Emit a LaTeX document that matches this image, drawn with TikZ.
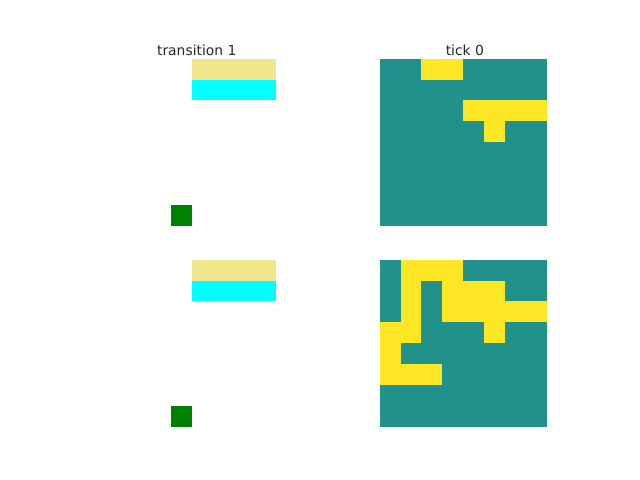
\documentclass[tikz,border=0pt]{standalone}
\usepackage{fontspec}
\setmainfont{DejaVu Sans}
\usetikzlibrary{positioning}
\definecolor{vteal}{HTML}{21918C}
\definecolor{vyellow}{HTML}{FDE725}
\definecolor{mkhaki}{HTML}{F0E68C}
\definecolor{mcyan}{HTML}{00FFFF}
\definecolor{mgreen}{HTML}{008000}

\begin{document}
\begin{tikzpicture}[x=0.72pt,y=-0.72pt,
    panel/.style={rectangle, inner sep=0pt, minimum size=120.24pt},
    ptitle/.style={anchor=base, text=black!85, font=\fontsize{10}{12}\selectfont}]

        \useasboundingbox (0,0) rectangle (640,480);

        \node[panel, fill=white] (TL) at (192.6,142.5) {};
        \node[panel, fill=vteal] (TR) at (463.5,142.5) {};
        \node[panel, fill=white] (BL) at (192.6,343.5) {};
        \node[panel, fill=vteal] (BR) at (463.5,343.5) {};

        \node[ptitle] (T1) at ([xshift=3pt,yshift=2.4pt]TL.north) {transition 1};
        \node[ptitle] (T2) at ([xshift=1pt,yshift=2.4pt]TR.north) {tick 0};

        % left panels
        \foreach \p in {TL,BL} {
            \fill[mkhaki] (\p.north west) ++(83.5,0) rectangle ++(83.5,20.875);
            \fill[mcyan] (\p.north west) ++(83.5,20.875) rectangle ++(83.5,20.875);
            \fill[mgreen] (\p.north west) ++(62.625,146.125) rectangle ++(20.875,20.875);
        }

        % right panels
        \foreach \r/\c in {0/2,0/3,2/4,2/5,2/6,2/7,3/5}
            \fill[vyellow] (TR.north west) ++(\c*20.875,\r*20.875) rectangle ++(20.875,20.875);

        \foreach \r/\c in {0/1,0/2,0/3,1/1,1/3,1/4,1/5,2/1,2/3,2/4,2/5,2/6,2/7,
                           3/0,3/1,3/5,4/0,5/0,5/1,5/2}
            \fill[vyellow] (BR.north west) ++(\c*20.875,\r*20.875) rectangle ++(20.875,20.875);

\end{tikzpicture}
\end{document}
